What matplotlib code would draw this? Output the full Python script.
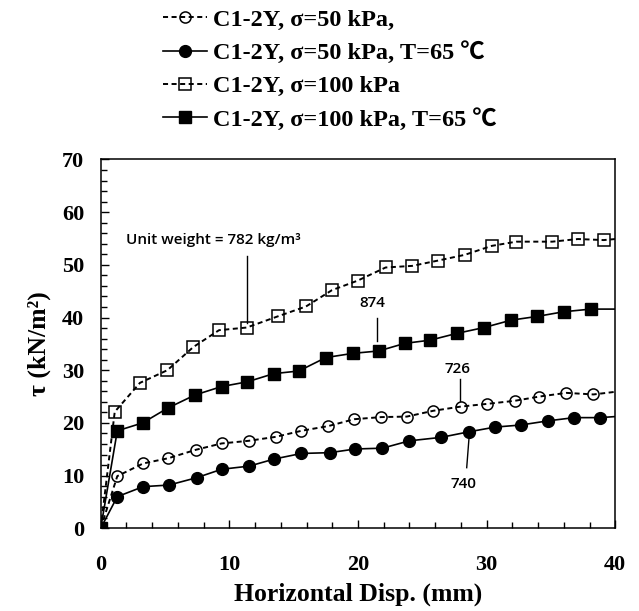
import matplotlib
matplotlib.use('Agg')
import matplotlib.pyplot as plt
from matplotlib.ticker import MultipleLocator

serif = ['Liberation Serif', 'Noto Sans CJK SC', 'DejaVu Serif']

# sigma = 50 kPa
x_c50 = [0, 1.29, 3.3, 5.26, 7.4, 9.4, 11.5, 13.6, 15.6, 17.7, 19.7, 21.8, 23.8, 25.85, 28.0, 30.0, 32.2, 34.1, 36.2, 38.3, 40]
y_c50 = [0, 9.9, 12.3, 13.3, 14.9, 16.1, 16.6, 17.35, 18.5, 19.4, 20.7, 21.1, 21.2, 22.3, 23.1, 23.6, 24.2, 25.0, 25.7, 25.4, 25.9]

# sigma = 50 kPa, T = 65
x_c50t = [0, 1.29, 3.3, 5.3, 7.46, 9.4, 11.55, 13.5, 15.6, 17.8, 19.8, 21.9, 24.0, 26.45, 28.6, 30.65, 32.65, 34.8, 36.8, 38.8, 40]
y_c50t = [0, 6.0, 7.9, 8.2, 9.6, 11.2, 11.8, 13.15, 14.2, 14.35, 15.05, 15.2, 16.6, 17.25, 18.3, 19.2, 19.6, 20.4, 21.0, 21.0, 21.2]

# sigma = 100 kPa
x_s100 = [0, 1.09, 3.05, 5.18, 7.2, 9.2, 11.35, 13.8, 15.96, 17.98, 19.97, 22.15, 24.2, 26.2, 28.3, 30.4, 32.3, 35.1, 37.1, 39.1, 40]
y_s100 = [0, 22.1, 27.6, 30.0, 34.4, 37.6, 38.1, 40.25, 42.1, 45.2, 47.0, 49.5, 49.8, 50.8, 51.9, 53.6, 54.4, 54.4, 54.9, 54.7, 54.9]

# sigma = 100 kPa, T = 65
x_s100t = [0, 1.29, 3.26, 5.2, 7.33, 9.4, 11.4, 13.45, 15.4, 17.5, 19.6, 21.6, 23.65, 25.6, 27.7, 29.8, 31.9, 33.9, 36.0, 38.1, 40]
y_s100t = [0, 18.5, 20.0, 22.8, 25.3, 26.9, 27.8, 29.35, 29.85, 32.4, 33.2, 33.65, 35.1, 35.7, 37.0, 38.1, 39.5, 40.2, 41.1, 41.6, 41.6]

labels = ['C1-2Y, σ=50 kPa,',
          'C1-2Y, σ=50 kPa, T=65 ℃',
          'C1-2Y, σ=100 kPa',
          'C1-2Y, σ=100 kPa, T=65 ℃']

fig = plt.figure(figsize=(6.39, 6.11), dpi=100)
ax = fig.add_axes([0.1576, 0.1354, 0.8053, 0.6036])

marks = list(range(1, 20))
lw = 1.4
dash = (0, (2.6, 1.8))
l1, = ax.plot(x_c50, y_c50, ls=dash, color='black', lw=lw, marker='o', ms=8,
              mfc='none', mec='black', mew=1.1, markevery=marks, label=labels[0])
l2, = ax.plot(x_c50t, y_c50t, ls='-', color='black', lw=1.2, marker='o', ms=8.5,
              mfc='black', mec='black', markevery=marks, label=labels[1])
l3, = ax.plot(x_s100, y_s100, ls=dash, color='black', lw=lw, marker='s', ms=8.5,
              mfc='none', mec='black', mew=1.1, markevery=marks, label=labels[2])
l4, = ax.plot(x_s100t, y_s100t, ls='-', color='black', lw=1.2, marker='s', ms=9,
              mfc='black', mec='black', markevery=[0] + marks, label=labels[3])

ax.set_xlim(0, 40)
ax.set_ylim(0, 70)
ax.xaxis.set_major_locator(MultipleLocator(10))
ax.xaxis.set_minor_locator(MultipleLocator(2))
ax.yaxis.set_major_locator(MultipleLocator(10))
ax.yaxis.set_minor_locator(MultipleLocator(2))
ax.tick_params(which='both', direction='in', top=False, right=False, width=1)
ax.tick_params(which='major', length=6)
ax.tick_params(which='minor', length=4.5)
ax.tick_params(axis='x', which='major', pad=19)
ax.tick_params(axis='y', which='major', pad=12)
for s in ax.spines.values():
    s.set_linewidth(1.1)
for t in ax.get_xticklabels() + ax.get_yticklabels():
    t.set_fontfamily(serif)
    t.set_fontweight('bold')
    t.set_fontsize(16)

ax.set_xlabel('Horizontal Disp. (mm)', family=serif, fontweight='bold', fontsize=18.5, labelpad=6)
ax.set_ylabel('τ (kN/m²)', family=serif, fontweight='bold', fontsize=18.5, labelpad=8)

# annotations
ann = dict(family='Open Sans', fontsize=11, fontweight='semibold', ha='center', va='center')
ax.text(8.73, 54.7, 'Unit weight = 782 kg/m³', **ann)
ax.plot([11.4, 11.4], [51.7, 39.0], color='black', lw=1)
ax.text(21.1, 42.7, '874', **ann)
ax.plot([21.5, 21.5], [39.9, 35.5], color='black', lw=1)
ax.text(27.7, 30.2, '726', **ann)
ax.plot([27.9, 27.9], [28.3, 24.2], color='black', lw=1)
ax.text(28.2, 8.35, '740', **ann)
ax.plot([28.45, 28.65], [11.5, 17.8], color='black', lw=1)

leg = fig.legend(handles=[l1, l2, l3, l4], loc='upper left',
                 bbox_to_anchor=(0.232, 1.01), frameon=False,
                 prop={'family': serif, 'weight': 'bold', 'size': 17.5},
                 handlelength=1.8, handletextpad=0.25, labelspacing=0.45,
                 borderaxespad=0.2)

fig.savefig('out.png', dpi=100, facecolor='white')
